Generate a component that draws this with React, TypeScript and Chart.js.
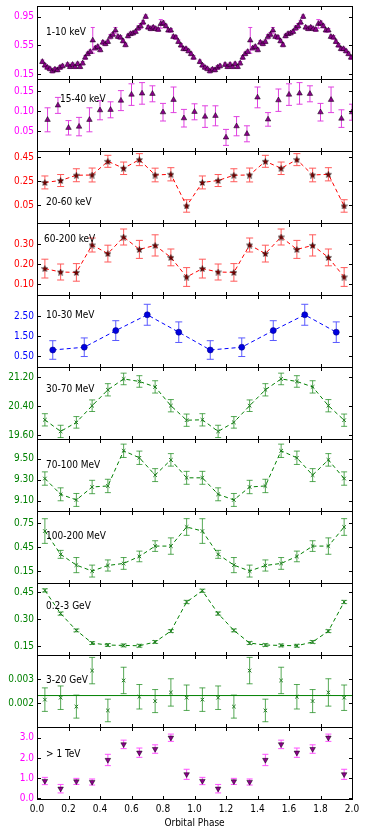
import React, { useEffect, useRef } from "react";
import { Chart, registerables } from "chart.js";

Chart.register(...registerables);

// ---------------- data ----------------
const PHASE20 = [0.05, 0.15, 0.25, 0.35, 0.45, 0.55, 0.65, 0.75, 0.85, 0.95, 1.05, 1.15, 1.25, 1.35, 1.45, 1.55, 1.65, 1.75, 1.85, 1.95];
const PHASE10 = [0.1, 0.3, 0.5, 0.7, 0.9, 1.1, 1.3, 1.5, 1.7, 1.9];

// 1-10 keV (one orbit, plotted twice)
const softPhase = [
  0.034, 0.05, 0.066, 0.082, 0.098, 0.114, 0.13, 0.146, 0.162, 0.178,
  0.194, 0.21, 0.226, 0.242, 0.258, 0.274, 0.29, 0.306, 0.322, 0.338,
  0.354, 0.37, 0.386, 0.402, 0.418, 0.434, 0.45, 0.466, 0.482, 0.498,
  0.514, 0.53, 0.546, 0.562, 0.578, 0.594, 0.61, 0.626, 0.642, 0.658,
  0.674, 0.69, 0.706, 0.722, 0.738, 0.754, 0.77, 0.786, 0.802, 0.818,
  0.834, 0.85, 0.866, 0.882, 0.898, 0.914, 0.93, 0.946, 0.962, 0.978,
  0.994,
];
const softFlux = [
  0.32, 0.27, 0.24, 0.22, 0.19, 0.215, 0.205, 0.24, 0.26, null,
  0.28, 0.25, 0.28, 0.25, 0.29, 0.25, 0.3, 0.38, 0.43, 0.46,
  0.62, 0.51, 0.53, 0.485, 0.59, 0.57, 0.6, 0.67, 0.7, 0.76,
  0.67, 0.66, 0.61, 0.555, 0.68, 0.71, 0.72, 0.74, 0.79, 0.82,
  0.87, 0.95, 0.8, 0.78, 0.8, 0.78, 0.77, 0.85, 0.86, 0.82,
  0.76, 0.76, 0.67, 0.66, 0.6, 0.55, 0.5, 0.5, 0.47, 0.43,
  0.38,
];
const softErr = [
  0.025, 0.025, 0.025, 0.025, 0.025, 0.025, 0.025, 0.025, 0.025, 0.025,
  0.025, 0.025, 0.025, 0.025, 0.025, 0.025, 0.025, 0.025, 0.025, 0.025,
  0.18, 0.025, 0.025, 0.025, 0.025, 0.025, 0.025, 0.03, 0.03, 0.04,
  0.025, 0.025, 0.025, 0.025, 0.025, 0.025, 0.025, 0.025, 0.03, 0.035,
  0.03, 0.025, 0.025, 0.025, 0.025, 0.025, 0.025, 0.06, 0.03, 0.025,
  0.025, 0.025, 0.025, 0.025, 0.025, 0.025, 0.025, 0.025, 0.025, 0.025,
  0.025,
];

// 15-40 keV
const hardXPhase = [0.067, 0.133, 0.2, 0.267, 0.333, 0.4, 0.467, 0.533, 0.6, 0.667, 0.733, 0.8, 0.867, 0.933, 1.0,
  1.067, 1.133, 1.2, 1.267, 1.333, 1.4, 1.467, 1.533, 1.6, 1.667, 1.733, 1.8, 1.867, 1.933, 2.0];
const hardXFlux = [0.078, 0.114, 0.058, 0.061, 0.078, 0.102, 0.103, 0.126, 0.141, 0.144, 0.143, 0.097, 0.128, 0.082, 0.098,
  0.086, 0.088, 0.034, 0.062, 0.043, 0.134, 0.079, 0.127, 0.141, 0.144, 0.143, 0.097, 0.128, 0.081, 0.097];
const hardXErr = [0.03, 0.02, 0.018, 0.023, 0.03, 0.024, 0.02, 0.025, 0.027, 0.027, 0.02, 0.022, 0.032, 0.022, 0.02,
  0.027, 0.025, 0.02, 0.024, 0.02, 0.026, 0.017, 0.028, 0.027, 0.027, 0.02, 0.022, 0.032, 0.022, 0.02];

// 20-60 keV
const kev20Flux = [0.238, 0.254, 0.298, 0.3, 0.414, 0.356, 0.428, 0.3, 0.306, 0.042, 0.238, 0.254, 0.298, 0.3, 0.414, 0.356, 0.428, 0.3, 0.306, 0.042];
const kev20Err = [0.054, 0.05, 0.054, 0.058, 0.05, 0.052, 0.05, 0.057, 0.055, 0.052, 0.054, 0.05, 0.054, 0.058, 0.05, 0.052, 0.05, 0.057, 0.055, 0.052];

// 60-200 keV
const kev60Flux = [0.177, 0.16, 0.158, 0.295, 0.252, 0.335, 0.273, 0.293, 0.233, 0.135, 0.177, 0.16, 0.158, 0.295, 0.252, 0.335, 0.273, 0.293, 0.233, 0.135];
const kev60Err = [0.047, 0.04, 0.044, 0.035, 0.042, 0.04, 0.045, 0.053, 0.042, 0.047, 0.047, 0.04, 0.044, 0.035, 0.042, 0.04, 0.045, 0.053, 0.042, 0.047];

// 10-30 MeV
const mev10Flux = [0.8, 0.94, 1.78, 2.58, 1.7, 0.8, 0.94, 1.78, 2.58, 1.7];
const mev10Err = [0.47, 0.47, 0.5, 0.53, 0.52, 0.47, 0.47, 0.5, 0.53, 0.52];

// 30-70 MeV
const mev30Flux = [20.03, 19.71, 19.96, 20.42, 20.86, 21.16, 21.09, 20.94, 20.42, 20.02, 20.03, 19.71, 19.96, 20.42, 20.86, 21.16, 21.09, 20.94, 20.42, 20.02];
const mev30Err = [0.17, 0.17, 0.16, 0.16, 0.17, 0.16, 0.16, 0.17, 0.17, 0.17, 0.17, 0.17, 0.16, 0.16, 0.17, 0.16, 0.16, 0.17, 0.17, 0.17];

// 70-100 MeV
const mev70Flux = [9.311, 9.16, 9.106, 9.23, 9.24, 9.577, 9.51, 9.344, 9.49, 9.318, 9.318, 9.16, 9.106, 9.23, 9.24, 9.577, 9.51, 9.344, 9.49, 9.311];
const mev70Err = [0.064, 0.062, 0.062, 0.064, 0.064, 0.064, 0.064, 0.062, 0.06, 0.062, 0.062, 0.062, 0.062, 0.064, 0.064, 0.064, 0.064, 0.062, 0.06, 0.064];

// 100-200 MeV
const mev100Flux = [0.653, 0.36, 0.225, 0.15, 0.22, 0.246, 0.334, 0.464, 0.464, 0.704, 0.653, 0.36, 0.225, 0.15, 0.22, 0.246, 0.334, 0.464, 0.464, 0.704];
const mev100Err = [0.155, 0.05, 0.095, 0.075, 0.07, 0.074, 0.067, 0.067, 0.103, 0.105, 0.155, 0.05, 0.095, 0.075, 0.07, 0.074, 0.067, 0.067, 0.103, 0.105];

// 0.2-3 GeV
const gev02Flux = [0.459, 0.331, 0.238, 0.168, 0.157, 0.155, 0.153, 0.174, 0.234, 0.395, 0.457, 0.331, 0.238, 0.168, 0.157, 0.155, 0.153, 0.174, 0.234, 0.395];
const gev02Err = [0.009, 0.009, 0.008, 0.008, 0.008, 0.008, 0.008, 0.008, 0.008, 0.009, 0.009, 0.009, 0.008, 0.008, 0.008, 0.008, 0.008, 0.008, 0.008, 0.009];

// 3-20 GeV
const gev3Flux = [0.00214, 0.00222, 0.00185, 0.00335, 0.00169, 0.00294, 0.00226, 0.00208, 0.00244, 0.00222, 0.00214, 0.00222, 0.00185, 0.00335, 0.00169, 0.00294, 0.00226, 0.00208, 0.00244, 0.00222];
const gev3Err = [0.00049, 0.00049, 0.00048, 0.00055, 0.00047, 0.00055, 0.00051, 0.00048, 0.00057, 0.00053, 0.00049, 0.00049, 0.00048, 0.00055, 0.00047, 0.00055, 0.00051, 0.00048, 0.00057, 0.00053];
const gev3Mean = 0.00231;
const gev3MeanPhase = [0, 2];

// > 1 TeV
const tevFlux = [0.86, 0.48, 0.84, 0.81, 1.9, 2.67, 2.26, 2.44, 3.0, 1.19, 0.86, 0.48, 0.84, 0.81, 1.9, 2.67, 2.26, 2.44, 3.0, 1.19];
const tevErr = [0.18, 0.21, 0.15, 0.15, 0.28, 0.21, 0.23, 0.21, 0.18, 0.25, 0.18, 0.21, 0.15, 0.15, 0.28, 0.21, 0.23, 0.21, 0.18, 0.25];

// axis ticks
const xTickValues = [0, 0.2, 0.4, 0.6, 0.8, 1.0, 1.2, 1.4, 1.6, 1.8, 2.0];
const xTickLabels = ["0.0", "0.2", "0.4", "0.6", "0.8", "1.0", "1.2", "1.4", "1.6", "1.8", "2.0"];

// ---------------- layout / style ----------------
const W = 374;
const PLOT_LEFT = 37;
const PLOT_RIGHT = 352;
const PANEL_TOPS = [6, 79, 151, 223, 295, 367, 439, 511, 583, 655, 727];
const PANEL_BOTTOM = 799;
const PAD = 12;
const FONT_FAMILY = "'DejaVu Sans Condensed', 'DejaVu Sans', sans-serif";

const MAGENTA = "#ff00ff";
const RED = "#ff0000";
const BLUE = "#0000ff";
const GREEN = "#008000";

type PanelDef = {
  label: string;
  labelDx: number;
  labelDy: number;
  tickColor: string;
  ticks: number[];
  tickLabels: string[];
  min: number;
  max: number;
  build: () => any[];
};

function pts(xs: number[], ys: (number | null)[]) {
  return xs.map((x, i) => ({ x, y: ys[i] }));
}

let starCache: HTMLCanvasElement | null = null;
function starImage() {
  if (starCache) return starCache;
  const size = 7;
  const c = document.createElement("canvas");
  c.width = size;
  c.height = size;
  const g = c.getContext("2d")!;
  const cx = size / 2, cy = size / 2 + 0.3, R = size / 2 - 0.3, r = R * 0.45;
  g.beginPath();
  for (let k = 0; k < 10; k++) {
    const a = -Math.PI / 2 + (k * Math.PI) / 5;
    const rad = k % 2 === 0 ? R : r;
    const px = cx + rad * Math.cos(a), py = cy + rad * Math.sin(a);
    if (k === 0) g.moveTo(px, py); else g.lineTo(px, py);
  }
  g.closePath();
  g.fillStyle = "#7a0000";
  g.fill();
  g.strokeStyle = "#000";
  g.lineWidth = 0.5;
  g.stroke();
  starCache = c;
  return c;
}

const softAllPhase = [...softPhase, ...softPhase.map((p) => p + 1)]; // folded light curve drawn over two orbits
const softAllFlux = [...softFlux, ...softFlux];
const softAllErr = [...softErr, ...softErr];

const triStyle = (r: number, rot = 0) => ({
  pointStyle: "triangle",
  pointRotation: rot,
  pointRadius: r,
  pointBackgroundColor: "#8b008b",
  pointBorderColor: "#000",
  pointBorderWidth: 0.5,
  showLine: false,
});

const dashedLine = (color: string) => ({
  showLine: true,
  borderColor: color,
  borderWidth: 1,
  borderDash: [4, 3],
});

const xStyle = {
  pointStyle: "crossRot",
  pointRadius: 2.5,
  pointBorderColor: "#1f7a1f",
  pointBorderWidth: 1,
};

const PANELS: PanelDef[] = [
  {
    label: "1-10 keV", labelDx: 9, labelDy: 26, tickColor: MAGENTA,
    ticks: [0.15, 0.55, 0.95], tickLabels: ["0.15", "0.55", "0.95"], min: 0.08, max: 1.1,
    build: () => [{ data: pts(softAllPhase, softAllFlux), errs: softAllErr, errColor: "#e040e0", capHalf: 2, ...triStyle(3.2) }],
  },
  {
    label: "15-40 keV", labelDx: 23, labelDy: 20, tickColor: MAGENTA,
    ticks: [0.05, 0.1, 0.15], tickLabels: ["0.05", "0.10", "0.15"], min: 0, max: 0.18,
    build: () => [{ data: pts(hardXPhase, hardXFlux), errs: hardXErr, errColor: "#e040e0", capHalf: 3, ...triStyle(3.2) }],
  },
  {
    label: "20-60 keV", labelDx: 9, labelDy: 51, tickColor: RED,
    ticks: [0.05, 0.25, 0.45], tickLabels: ["0.05", "0.25", "0.45"], min: -0.1, max: 0.5,
    build: () => [{ data: pts(PHASE20, kev20Flux), errs: kev20Err, errColor: "#ff5a5a", capHalf: 3.5, ...dashedLine(RED), pointStyle: starImage(), pointRadius: 3.5 }],
  },
  {
    label: "60-200 keV", labelDx: 7, labelDy: 16, tickColor: RED,
    ticks: [0.1, 0.2, 0.3], tickLabels: ["0.10", "0.20", "0.30"], min: 0.045, max: 0.405,
    build: () => [{ data: pts(PHASE20, kev60Flux), errs: kev60Err, errColor: "#ff5a5a", capHalf: 3.5, ...dashedLine(RED), pointStyle: starImage(), pointRadius: 3.5 }],
  },
  {
    label: "10-30 MeV", labelDx: 9, labelDy: 20, tickColor: BLUE,
    ticks: [0.5, 1.5, 2.5], tickLabels: ["0.50", "1.50", "2.50"], min: -0.06, max: 3.58,
    build: () => [{ data: pts(PHASE10, mev10Flux), errs: mev10Err, errColor: "#5a5aff", capHalf: 3.5, ...dashedLine(BLUE), pointStyle: "circle", pointRadius: 3, pointBackgroundColor: "#0000e0", pointBorderColor: "#00008b", pointBorderWidth: 0.6 }],
  },
  {
    label: "30-70 MeV", labelDx: 9, labelDy: 22, tickColor: GREEN,
    ticks: [19.6, 20.4, 21.2], tickLabels: ["19.60", "20.40", "21.20"], min: 19.5, max: 21.49,
    build: () => [{ data: pts(PHASE20, mev30Flux), errs: mev30Err, errColor: "rgba(30,140,30,0.75)", capHalf: 3, ...dashedLine(GREEN), ...xStyle }],
  },
  {
    label: "70-100 MeV", labelDx: 9, labelDy: 26, tickColor: GREEN,
    ticks: [9.1, 9.3, 9.5], tickLabels: ["9.10", "9.30", "9.50"], min: 9.0, max: 9.69,
    build: () => [{ data: pts(PHASE20, mev70Flux), errs: mev70Err, errColor: "rgba(30,140,30,0.75)", capHalf: 3, ...dashedLine(GREEN), ...xStyle }],
  },
  {
    label: "100-200 MeV", labelDx: 9, labelDy: 25, tickColor: GREEN,
    ticks: [0.15, 0.45, 0.75], tickLabels: ["0.15", "0.45", "0.75"], min: 0, max: 0.905,
    build: () => [{ data: pts(PHASE20, mev100Flux), errs: mev100Err, errColor: "rgba(30,140,30,0.75)", capHalf: 3, ...dashedLine(GREEN), ...xStyle }],
  },
  {
    label: "0.2-3 GeV", labelDx: 9, labelDy: 23, tickColor: GREEN,
    ticks: [0.15, 0.3, 0.45], tickLabels: ["0.15", "0.30", "0.45"], min: 0.102, max: 0.5,
    build: () => [{ data: pts(PHASE20, gev02Flux), errs: gev02Err, errColor: "rgba(30,140,30,0.75)", capHalf: 3, ...dashedLine(GREEN), ...xStyle }],
  },
  {
    label: "3-20 GeV", labelDx: 9, labelDy: 25, tickColor: GREEN,
    ticks: [0.002, 0.003], tickLabels: ["0.002", "0.003"], min: 0.001, max: 0.004,
    build: () => [
      { data: pts(gev3MeanPhase, [gev3Mean, gev3Mean]), showLine: true, borderColor: GREEN, borderWidth: 1, pointRadius: 0 },
      { data: pts(PHASE20, gev3Flux), errs: gev3Err, errColor: "rgba(30,140,30,0.75)", capHalf: 3, showLine: false, ...xStyle },
    ],
  },
  {
    label: "> 1 TeV", labelDx: 9, labelDy: 27, tickColor: MAGENTA,
    ticks: [0, 1, 2, 3], tickLabels: ["0.0", "1.0", "2.0", "3.0"], min: -0.03, max: 3.53,
    build: () => [{ data: pts(PHASE20, tevFlux), errs: tevErr, errColor: "#ff50ff", capHalf: 3, ...triStyle(3.2, 180) }],
  },
];

// ---------------- plugins ----------------
const errorBarPlugin = {
  id: "errorBars",
  beforeDatasetsDraw(chart: any) {
    const { ctx, chartArea, scales } = chart;
    ctx.save();
    ctx.beginPath();
    ctx.rect(chartArea.left, chartArea.top, chartArea.right - chartArea.left, chartArea.bottom - chartArea.top);
    ctx.clip();
    chart.data.datasets.forEach((ds: any) => {
      if (!ds.errs) return;
      ctx.strokeStyle = ds.errColor;
      ctx.lineWidth = 1;
      const cw = ds.capHalf ?? 3;
      ds.data.forEach((p: any, i: number) => {
        if (p.y == null) return;
        const e = ds.errs[i];
        const x = scales.x.getPixelForValue(p.x);
        const y1 = scales.y.getPixelForValue(p.y - e);
        const y2 = scales.y.getPixelForValue(p.y + e);
        ctx.beginPath();
        ctx.moveTo(x, y1);
        ctx.lineTo(x, y2);
        ctx.moveTo(x - cw, y1);
        ctx.lineTo(x + cw, y1);
        ctx.moveTo(x - cw, y2);
        ctx.lineTo(x + cw, y2);
        ctx.stroke();
      });
    });
    ctx.restore();
  },
};

function framePlugin(def: PanelDef) {
  return {
    id: "panelFrame",
    afterDraw(chart: any) {
      const { ctx, chartArea, scales } = chart;
      const l = Math.round(chartArea.left), r = Math.round(chartArea.right);
      const t = Math.round(chartArea.top), b = Math.round(chartArea.bottom);
      ctx.save();
      ctx.strokeStyle = "#000";
      ctx.lineWidth = 1;
      ctx.strokeRect(l + 0.5, t + 0.5, r - l, b - t);
      const TL = 4;
      ctx.beginPath();
      xTickValues.forEach((v) => {
        const x = Math.round(scales.x.getPixelForValue(v)) + 0.5;
        if (x <= l + 1 || x >= r) return;
        ctx.moveTo(x, t);
        ctx.lineTo(x, t + TL);
        ctx.moveTo(x, b + 1);
        ctx.lineTo(x, b + 1 - TL);
      });
      def.ticks.forEach((v) => {
        const y = Math.round(scales.y.getPixelForValue(v)) + 0.5;
        ctx.moveTo(l, y);
        ctx.lineTo(l + TL, y);
        ctx.moveTo(r + 1, y);
        ctx.lineTo(r + 1 - TL, y);
      });
      ctx.stroke();
      ctx.fillStyle = "#000";
      ctx.font = `10px ${FONT_FAMILY}`;
      ctx.textAlign = "left";
      ctx.textBaseline = "middle";
      ctx.fillText(def.label, l + def.labelDx, t + def.labelDy);
      ctx.restore();
    },
  };
}

// ---------------- components ----------------
function Panel({ def, index }: { def: PanelDef; index: number }) {
  const ref = useRef<HTMLCanvasElement | null>(null);
  const isLast = index === PANELS.length - 1;
  const top = PANEL_TOPS[index];
  const bottom = isLast ? PANEL_BOTTOM : PANEL_TOPS[index + 1];
  const canvasTop = top - PAD;
  const canvasHeight = isLast ? 830 - canvasTop : bottom - top + 2 * PAD;

  useEffect(() => {
    if (!ref.current) return;
    const font = { family: FONT_FAMILY, size: 10 };
    const chart = new Chart(ref.current, {
      type: "scatter",
      data: { datasets: def.build() },
      options: {
        responsive: false,
        animation: false,
        devicePixelRatio: 1,
        events: [],
        layout: { padding: { left: 0, right: W - PLOT_RIGHT, top: PAD, bottom: isLast ? 0 : PAD } },
        plugins: { legend: { display: false }, tooltip: { enabled: false } },
        scales: {
          x: {
            type: "linear",
            min: 0,
            max: 2,
            display: isLast,
            afterBuildTicks: (s: any) => {
              s.ticks = xTickValues.map((v) => ({ value: v }));
            },
            afterFit: (s: any) => {
              if (isLast) s.height = 830 - PANEL_BOTTOM;
            },
            ticks: {
              color: "#000",
              font,
              padding: 4,
              maxRotation: 0,
              autoSkip: false,
              callback: (v: any) => xTickLabels[xTickValues.findIndex((t) => Math.abs(t - v) < 1e-6)] ?? "",
            },
            grid: { display: false, drawTicks: false },
            border: { display: false },
            title: { display: true, text: "Orbital Phase", color: "#000", font, padding: { top: 0, bottom: 1 } },
          },
          y: {
            type: "linear",
            min: def.min,
            max: def.max,
            afterFit: (s: any) => {
              s.width = PLOT_LEFT;
            },
            afterBuildTicks: (s: any) => {
              s.ticks = def.ticks.map((v) => ({ value: v }));
            },
            ticks: {
              color: def.tickColor,
              font,
              padding: 3,
              callback: (v: any) => def.tickLabels[def.ticks.findIndex((t) => Math.abs(t - v) < 1e-9)] ?? "",
            },
            grid: { display: false, drawTicks: false },
            border: { display: false },
          },
        },
      } as any,
      plugins: [errorBarPlugin, framePlugin(def)],
    });
    return () => chart.destroy();
  }, []);

  return (
    <canvas
      ref={ref}
      width={W}
      height={canvasHeight}
      style={{ position: "absolute", left: 0, top: canvasTop, width: W, height: canvasHeight }}
    />
  );
}

export default function App() {
  return (
    <div style={{ position: "absolute", left: 0, top: 0, width: W, height: 830, background: "#fff", overflow: "hidden" }}>
      {PANELS.map((p, k) => (
        <Panel key={k} def={p} index={k} />
      ))}
    </div>
  );
}
